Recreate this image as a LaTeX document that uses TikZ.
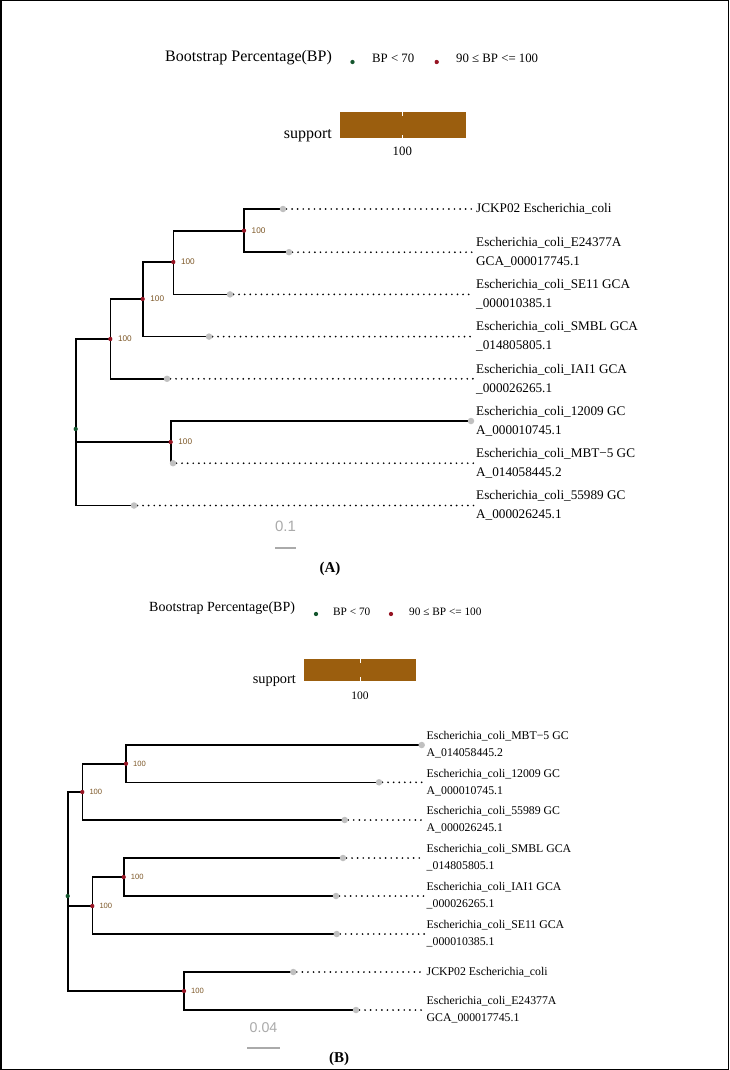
\documentclass[tikz,border=0pt]{standalone}
\usepackage{fontspec}
\setmainfont{Liberation Serif}
\newfontfamily\lsans{Liberation Sans}
\usetikzlibrary{backgrounds}
\definecolor{supbrown}{RGB}{155,94,14}
\definecolor{nodered}{RGB}{150,20,35}
\definecolor{nodegreen}{RGB}{20,85,45}
\definecolor{tipgray}{RGB}{192,192,192}
\definecolor{labbrown}{RGB}{125,88,40}
\definecolor{scalegray}{RGB}{170,170,170}
\begin{document}
\begin{tikzpicture}[x=1pt,y=-1pt,
  frame/.style={draw=black,line width=1.5pt},
  br/.style={line width=1.6pt,line join=miter},
  dotl/.style={line width=1.9pt,line cap=round,dash pattern=on 0pt off 5.6pt},
  tipdot/.style={circle,fill=tipgray,inner sep=0pt,minimum size=6.5pt},
  rdot/.style={circle,fill=nodered,inner sep=0pt,minimum size=4.3pt},
  gdot/.style={circle,fill=nodegreen,inner sep=0pt,minimum size=4.3pt},
  blabA/.style={font=\lsans\fontsize{8.2}{8.2}\selectfont,text=labbrown,anchor=west,inner sep=0pt,xshift=7.5pt},
  blabB/.style={font=\lsans\fontsize{7.6}{7.6}\selectfont,text=labbrown,anchor=west,inner sep=0pt,xshift=7pt},
  tipA/.style={anchor=west,align=left,inner xsep=2pt,inner ysep=0pt,font=\fontsize{13.2}{19}\selectfont},
  tipB/.style={anchor=west,align=left,inner xsep=2pt,inner ysep=0pt,font=\fontsize{11.8}{17}\selectfont},
  ttlA/.style={anchor=base west,inner sep=0pt,font=\fontsize{16}{16}\selectfont},
  itmA/.style={anchor=base west,inner sep=0pt,font=\fontsize{12.8}{13}\selectfont},
  ttlB/.style={anchor=base west,inner sep=0pt,font=\fontsize{14}{14}\selectfont},
  itmB/.style={anchor=base west,inner sep=0pt,font=\fontsize{11.3}{12}\selectfont},
  supbar/.style={fill=supbrown,draw=none},
  scl/.style={font=\lsans\fontsize{15}{15}\selectfont,text=scalegray,inner sep=0pt},
  sclbar/.style={draw=scalegray,line width=2.5pt},
  pmark/.style={font=\bfseries\fontsize{15}{15}\selectfont,inner sep=0pt}]
\useasboundingbox (0,0) rectangle (729,1070);
\draw[frame] (0.75,0.75) rectangle (728.25,1069.25);

% ================= Panel A =================
\node[ttlA] (ttlA) at (165,62) {Bootstrap Percentage(BP)};
\node[gdot] (lgA1) at (352.5,62) {};
\node[itmA] (itA1) at (372,63) {BP < 70};
\node[rdot] (lgA2) at (436.7,62) {};
\node[itmA] (itA2) at (456,63) {90 ≤ BP <= 100};
\node[supbar,minimum width=126.2pt,minimum height=26pt,inner sep=0pt] (barA) at (402.6,125.3) {};
\draw[white,line width=0.8pt] (barA.north) -- ++(0,4);
\draw[white,line width=0.8pt] (barA.south) -- ++(0,-4);
\node[anchor=base east,inner sep=0pt,font=\fontsize{16}{16}\selectfont] (supA) at (332,139) {support};
\node[anchor=base,inner sep=0pt,font=\fontsize{12.8}{13}\selectfont] (hunA) at (402.3,155.7) {100};

% tree A vertices
\node[gdot] (aR) at (75.7,429) {};
\node[rdot] (aN1) at (110.3,339) {};
\node[rdot] (aN2) at (142.7,299) {};
\node[rdot] (aN3) at (173.3,262) {};
\node[rdot] (aN4) at (244,230.7) {};
\node[rdot] (aN5) at (170.7,442) {};
\node[blabA] at (aN1) {100};
\node[blabA] at (aN2) {100};
\node[blabA] at (aN3) {100};
\node[blabA] at (aN4) {100};
\node[blabA] at (aN5) {100};
\node[tipdot] (aT1) at (283,209) {};
\node[tipdot] (aT2) at (289,252.2) {};
\node[tipdot] (aT3) at (230,294.4) {};
\node[tipdot] (aT4) at (209,336.6) {};
\node[tipdot] (aT5) at (167,378.8) {};
\node[tipdot] (aT6) at (471,421) {};
\node[tipdot] (aT7) at (173,463.2) {};
\node[tipdot] (aT8) at (134,505.5) {};
\node[tipA] (aL1) at (474,209) {JCKP02 Escherichia\_coli};
\node[tipA] (aL2) at (474,252.2) {Escherichia\_coli\_E24377A\\GCA\_000017745.1};
\node[tipA] (aL3) at (474,294.4) {Escherichia\_coli\_SE11 GCA\\\_000010385.1};
\node[tipA] (aL4) at (474,336.6) {Escherichia\_coli\_SMBL GCA\\\_014805805.1};
\node[tipA] (aL5) at (474,378.8) {Escherichia\_coli\_IAI1 GCA\\\_000026265.1};
\node[tipA] (aL6) at (474,421) {Escherichia\_coli\_12009 GC\\A\_000010745.1};
\node[tipA] (aL7) at (474,463.2) {Escherichia\_coli\_MBT−5 GC\\A\_014058445.2};
\node[tipA] (aL8) at (474,505.5) {Escherichia\_coli\_55989 GC\\A\_000026245.1};
\begin{pgfonlayer}{background}
\draw[br] (aR.center) |- (aN1.center);
\draw[br] (aR.center) |- (aN5.center);
\draw[br] (aR.center) |- (aT8.center);
\draw[br] (aN1.center) |- (aN2.center);
\draw[br] (aN1.center) |- (aT5.center);
\draw[br] (aN2.center) |- (aN3.center);
\draw[br] (aN2.center) |- (aT4.center);
\draw[br] (aN3.center) |- (aN4.center);
\draw[br] (aN3.center) |- (aT3.center);
\draw[br] (aN4.center) |- (aT1.center);
\draw[br] (aN4.center) |- (aT2.center);
\draw[br] (aN5.center) |- (aT6.center);
\draw[br] (aN5.center) |- (aT7.center);
\draw[dotl] (aT1.east) -- (aL1.west);
\draw[dotl] (aT2.east) -- (aL2.west);
\draw[dotl] (aT3.east) -- (aL3.west);
\draw[dotl] (aT4.east) -- (aL4.west);
\draw[dotl] (aT5.east) -- (aL5.west);
\draw[dotl] (aT7.east) -- (aL7.west);
\draw[dotl] (aT8.east) -- (aL8.west);
\end{pgfonlayer}
\node[scl] (sA) at (285.5,526) {0.1};
\coordinate (sAl) at (275,548);
\coordinate (sAr) at (296,548);
\draw[sclbar] (sAl) -- (sAr);
\node[pmark] (pA) at (330,569) {(A)};

% ================= Panel B =================
\node[ttlB] (ttlB) at (149,611) {Bootstrap Percentage(BP)};
\node[gdot] (lgB1) at (316,614) {};
\node[itmB] (itB1) at (333,615) {BP < 70};
\node[rdot] (lgB2) at (391,614) {};
\node[itmB] (itB2) at (409,615) {90 ≤ BP <= 100};
\node[supbar,minimum width=112pt,minimum height=22.5pt,inner sep=0pt] (barB) at (360,670) {};
\draw[white,line width=0.8pt] (barB.north) -- ++(0,4);
\draw[white,line width=0.8pt] (barB.south) -- ++(0,-4);
\node[anchor=base east,inner sep=0pt,font=\fontsize{14.3}{15}\selectfont] (supB) at (296,683) {support};
\node[anchor=base,inner sep=0pt,font=\fontsize{11.5}{12}\selectfont] (hunB) at (360,699) {100};

\node[gdot] (bR) at (67.7,896) {};
\node[rdot] (bN1) at (82.3,792) {};
\node[rdot] (bN2) at (126,763.7) {};
\node[rdot] (bN3) at (92.3,906) {};
\node[rdot] (bN4) at (123.7,877) {};
\node[rdot] (bN5) at (184,991) {};
\node[blabB] at (bN1) {100};
\node[blabB] at (bN2) {100};
\node[blabB] at (bN3) {100};
\node[blabB] at (bN4) {100};
\node[blabB] at (bN5) {100};
\node[tipdot] (bT1) at (421.7,745) {};
\node[tipdot] (bT2) at (379,782.3) {};
\node[tipdot] (bT3) at (344.7,820) {};
\node[tipdot] (bT4) at (343,858) {};
\node[tipdot] (bT5) at (336,896) {};
\node[tipdot] (bT6) at (336.7,934) {};
\node[tipdot] (bT7) at (293.3,972) {};
\node[tipdot] (bT8) at (356,1010) {};
\node[tipB] (bL1) at (424.5,745) {Escherichia\_coli\_MBT−5 GC\\A\_014058445.2};
\node[tipB] (bL2) at (424.5,782.3) {Escherichia\_coli\_12009 GC\\A\_000010745.1};
\node[tipB] (bL3) at (424.5,820) {Escherichia\_coli\_55989 GC\\A\_000026245.1};
\node[tipB] (bL4) at (424.5,858) {Escherichia\_coli\_SMBL GCA\\\_014805805.1};
\node[tipB] (bL5) at (424.5,896) {Escherichia\_coli\_IAI1 GCA\\\_000026265.1};
\node[tipB] (bL6) at (424.5,934) {Escherichia\_coli\_SE11 GCA\\\_000010385.1};
\node[tipB] (bL7) at (424.5,972) {JCKP02 Escherichia\_coli};
\node[tipB] (bL8) at (424.5,1010) {Escherichia\_coli\_E24377A\\GCA\_000017745.1};
\begin{pgfonlayer}{background}
\draw[br] (bR.center) |- (bN1.center);
\draw[br] (bR.center) |- (bN3.center);
\draw[br] (bR.center) |- (bN5.center);
\draw[br] (bN1.center) |- (bN2.center);
\draw[br] (bN1.center) |- (bT3.center);
\draw[br] (bN2.center) |- (bT1.center);
\draw[br] (bN2.center) |- (bT2.center);
\draw[br] (bN3.center) |- (bN4.center);
\draw[br] (bN3.center) |- (bT6.center);
\draw[br] (bN4.center) |- (bT4.center);
\draw[br] (bN4.center) |- (bT5.center);
\draw[br] (bN5.center) |- (bT7.center);
\draw[br] (bN5.center) |- (bT8.center);
\draw[dotl] (bT2.east) -- (bL2.west);
\draw[dotl] (bT3.east) -- (bL3.west);
\draw[dotl] (bT4.east) -- (bL4.west);
\draw[dotl] (bT5.east) -- (bL5.west);
\draw[dotl] (bT6.east) -- (bL6.west);
\draw[dotl] (bT7.east) -- (bL7.west);
\draw[dotl] (bT8.east) -- (bL8.west);
\end{pgfonlayer}
\node[scl,font=\lsans\fontsize{14.2}{15}\selectfont] (sB) at (263.5,1028) {0.04};
\coordinate (sBl) at (247,1048);
\coordinate (sBr) at (280,1048);
\draw[sclbar] (sBl) -- (sBr);
\node[pmark] (pB) at (339,1059) {(B)};
\end{tikzpicture}
\end{document}
